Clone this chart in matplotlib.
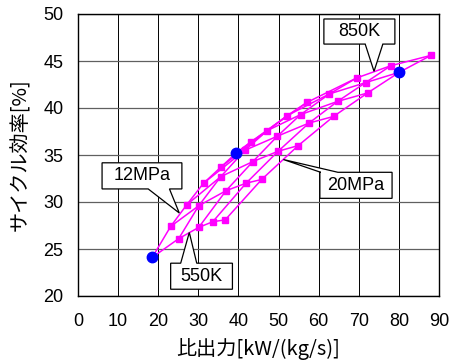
import matplotlib
matplotlib.use('Agg')
import matplotlib.pyplot as plt
from matplotlib.patches import Polygon
from matplotlib.ticker import MultipleLocator

temps = [550, 600, 650, 700, 750, 800, 850]  # K
pressures = [12, 14, 16, 18, 20]  # MPa

# specific output [kW/(kg/s)], one row per pressure, columns follow temps
output = [
    [18.5, 23.1, 27.1, 31.3, 35.6, 39.4, 43.1],
    [25.1, 30.1, 35.6, 41.6, 47.2, 52.2, 57.1],
    [30.1, 36.9, 43.6, 49.7, 55.5, 62.7, 69.5],
    [33.6, 41.9, 49.9, 57.6, 64.7, 71.7, 78.0],
    [36.7, 45.8, 54.9, 63.7, 72.2, 80.1, 88.0],
]
# cycle efficiency [%]
eff = [
    [24.1, 27.4, 29.7, 32.0, 33.7, 35.2, 36.4],
    [26.1, 29.6, 32.7, 35.5, 37.6, 39.2, 40.6],
    [27.3, 31.2, 34.3, 37.0, 39.3, 41.5, 43.2],
    [27.9, 32.0, 35.4, 38.4, 40.7, 42.7, 44.5],
    [28.1, 32.4, 36.0, 39.1, 41.6, 43.8, 45.6],
]
# highlighted cases (pressure, temperature)
marked = [(12, 550), (12, 800), (20, 800)]

magenta = '#FF00FF'
jp = ['Noto Sans CJK JP', 'DejaVu Sans']

fig = plt.figure(figsize=(4.53, 3.63), dpi=100)
ax = fig.add_axes([78 / 453, 1 - 296 / 363, (439 - 78) / 453, (296 - 14) / 363])

# constant pressure lines
for i in range(len(pressures)):
    ax.plot(output[i], eff[i], color=magenta, lw=1.1, marker='s', ms=5, zorder=3)
# constant temperature lines
for j in range(len(temps)):
    ax.plot([r[j] for r in output], [r[j] for r in eff], color=magenta, lw=1.1, zorder=3)

bx = [output[pressures.index(p)][temps.index(t)] for p, t in marked]
by = [eff[pressures.index(p)][temps.index(t)] for p, t in marked]
ax.plot(bx, by, 'o', color='#0000FF', ms=7.5, zorder=5)


def callout(text, box, tip, base, side):
    x0, y0, x1, y1 = box
    b0, b1 = base
    if side == 'bottom':
        verts = [(x0, y1), (x1, y1), (x1, y0), (b1, y0), tip, (b0, y0), (x0, y0)]
    else:
        verts = [(x0, y0), (x0, y1), (b0, y1), tip, (b1, y1), (x1, y1), (x1, y0)]
    ax.add_patch(Polygon(verts, closed=True, fc='white', ec='black', lw=0.9, zorder=6))
    ax.text((x0 + x1) / 2, (y0 + y1) / 2, text, ha='center', va='center',
            fontsize=13, family='Liberation Sans', zorder=7)


callout('850K', (61.3, 46.8, 79.0, 49.47), (73.8, 43.9), (71.6, 76.0), 'bottom')
callout('12MPa', (6.0, 31.39, 25.9, 34.17), (25.25, 28.83), (17.5, 22.8), 'bottom')
callout('550K', (23.1, 20.72, 38.5, 23.49), (27.75, 26.76), (25.6, 29.6), 'top')
callout('20MPa', (60.3, 30.39, 78.3, 33.16), (51.2, 34.52), (60.5, 64.8), 'top')

ax.set_xlim(0, 90)
ax.set_ylim(20, 50)
ax.xaxis.set_major_locator(MultipleLocator(10))
ax.yaxis.set_major_locator(MultipleLocator(5))
ax.grid(axis='x', color='black', lw=0.7)
ax.grid(axis='y', color='#606060', lw=0.9)
ax.set_axisbelow(True)
for s in ax.spines.values():
    s.set_color('black')
    s.set_linewidth(1.0)
ax.tick_params(length=0, labelsize=13)
ax.tick_params(axis='x', pad=12)
ax.tick_params(axis='y', pad=10.5)
for lab in ax.get_xticklabels() + ax.get_yticklabels():
    lab.set_family('Liberation Sans')

ax.set_xlabel('比出力[kW/(kg/s)]', fontsize=14.5, family=jp)
ax.set_ylabel('サイクル効率[%]', fontsize=14.5, family=jp)
ax.xaxis.set_label_coords(0.5, -0.15)
ax.yaxis.set_label_coords(-0.13, 0.5)

fig.savefig('out.png', dpi=100)
